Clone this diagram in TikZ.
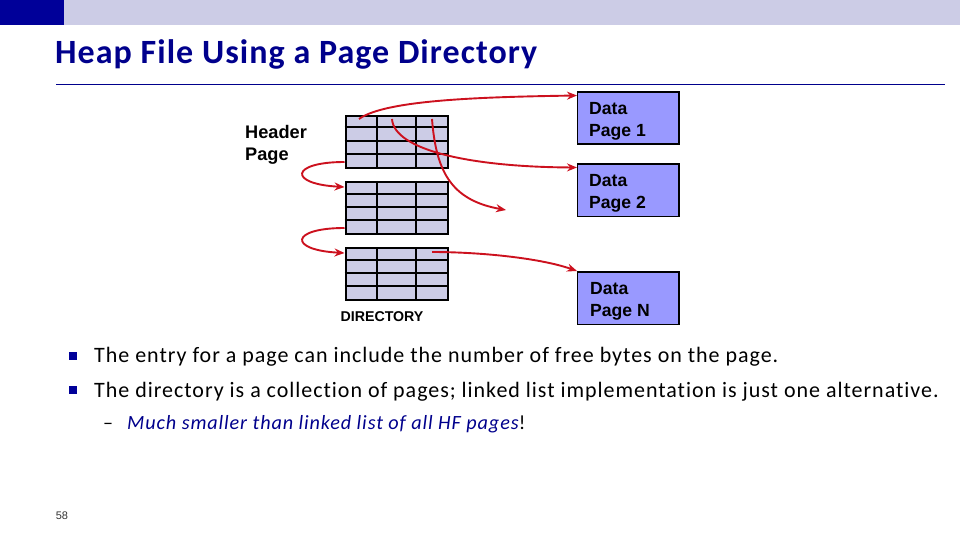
\documentclass[tikz,border=0pt]{standalone}
\usepackage{fontspec}
\setmainfont{Carlito}
\setsansfont{Liberation Sans}
\newfontfamily\bodyfont[LetterSpace=4.4,Ligatures=NoCommon]{Carlito}
\newfontfamily\titlefont[LetterSpace=3.1,Ligatures=NoCommon]{Carlito}
\usetikzlibrary{arrows.meta}
\definecolor{barblue}{RGB}{204,204,230}
\definecolor{darkblue}{RGB}{0,0,153}
\definecolor{titleblue}{RGB}{0,0,140}
\definecolor{cellblue}{RGB}{204,204,230}
\definecolor{pageblue}{RGB}{153,153,255}
\definecolor{linkred}{RGB}{204,17,30}
\tikzset{
  dirtable/.style={draw=black,line width=2pt,fill=cellblue,minimum width=102pt,minimum height=52pt,inner sep=0pt},
  datapage/.style={draw=black,line width=1.8pt,fill=pageblue,minimum width=101.5pt,minimum height=52.5pt,inner sep=0pt},
  pagetext/.style={font=\sffamily\bfseries\fontsize{17.6}{22}\selectfont,align=left,anchor=west,inner sep=0pt},
  bodytext/.style={font=\bodyfont\fontsize{22}{26}\selectfont,anchor=base west,inner sep=0pt},
  link/.style={draw=linkred,line width=1.9pt,-{Stealth[length=10pt,width=8pt]}},
  bullet/.style={fill=darkblue,minimum size=8pt,inner sep=0pt}
}
\begin{document}
\begin{tikzpicture}[x=1pt,y=-1pt]
  \useasboundingbox (0,0) rectangle (960,540);
  \fill [barblue] (64,0) rectangle (960,25);
  \fill [darkblue] (0,0) rectangle (64,25);
  \node (title) [anchor=base west,inner sep=0pt,text=titleblue,font=\titlefont\bfseries\fontsize{34}{38}\selectfont] at (55,63.5) {Heap File Using a Page Directory};
  \draw [titleblue,line width=0.8pt] (56,84.5) -- (945,84.5);
  % directory
  \foreach \name/\ytop in {dirA/115,dirB/181,dirC/247} {
    \node (\name) [dirtable,anchor=north west] at (344.5,\ytop) {};
    \foreach \dy in {12.5,26,39}
      \draw [black,line width=2pt] (344.5,\ytop+\dy) -- (446.5,\ytop+\dy);
    \foreach \xx in {376.5,415.5}
      \draw [black,line width=2pt] (\xx,\ytop) -- (\xx,\ytop+52);
  }
  \node (dirlabel) [font=\sffamily\bfseries\fontsize{14.2}{16}\selectfont,inner sep=0pt] at (382,316.5) {DIRECTORY};
  \node (header) [pagetext,font=\sffamily\bfseries\fontsize{18.2}{22}\selectfont] at (245,145) {Header\\Page};
  % data pages
  \node (pageA) [datapage,anchor=north west] at (576.5,91) {};
  \node (pageB) [datapage,anchor=north west] at (576.5,163) {};
  \node (pageN) [datapage,anchor=north west] at (576.5,271) {};
  \node (textA) [pagetext] at (589,121.5) {Data\\Page 1};
  \node (textB) [pagetext] at (589,193.5) {Data\\Page 2};
  \node (textN) [pagetext] at (590,301.5) {Data\\Page N};
  % links
  \coordinate (startA) at (359,119);
  \coordinate (startB) at (392,119);
  \coordinate (startC) at (432,119);
  \coordinate (startF) at (432,252);
  \coordinate (endA) at (577,95.5);
  \coordinate (endB) at (577,167.5);
  \coordinate (endC) at (506,210);
  \coordinate (endF) at (577,271);
  \draw [link] (startA) .. controls (385,100) and (480,97) .. (endA);
  \draw [link] (startB) .. controls (394,150) and (470,167) .. (endB);
  \draw [link] (startC) .. controls (436,170) and (450,200) .. (endC);
  \draw [link] (dirA.west |- 0,162) .. controls (290,162) and (288,184) .. (dirB.west |- 0,187);
  \draw [link] (dirB.west |- 0,228) .. controls (290,228) and (288,250) .. (dirC.west |- 0,253);
  \draw [link] (startF) .. controls (480,252) and (540,258) .. (endF);
  % text
  \node (bulA) [bullet] at (73,355.5) {};
  \node (bulB) [bullet] at (73,390) {};
  \node (lineA) [bodytext] at (94,362) {The entry for a page can include the number of free bytes on the page.};
  \node (lineB) [bodytext] at (94,397) {The directory is a collection of pages; linked list implementation is just one alternative.};
  \node (dash) [bodytext,font=\bodyfont\fontsize{20}{24}\selectfont] at (103,429) {–};
  \node (lineC) [bodytext,font=\bodyfont\itshape\fontsize{20.2}{24}\selectfont,text=titleblue] at (127,429) {Much smaller than linked list of all HF pages{\upshape\color{black}!}};
  \node (pagenum) [font=\sffamily\fontsize{11}{13}\selectfont,inner sep=0pt,text=black!80] at (62,516) {58};
\end{tikzpicture}
\end{document}
